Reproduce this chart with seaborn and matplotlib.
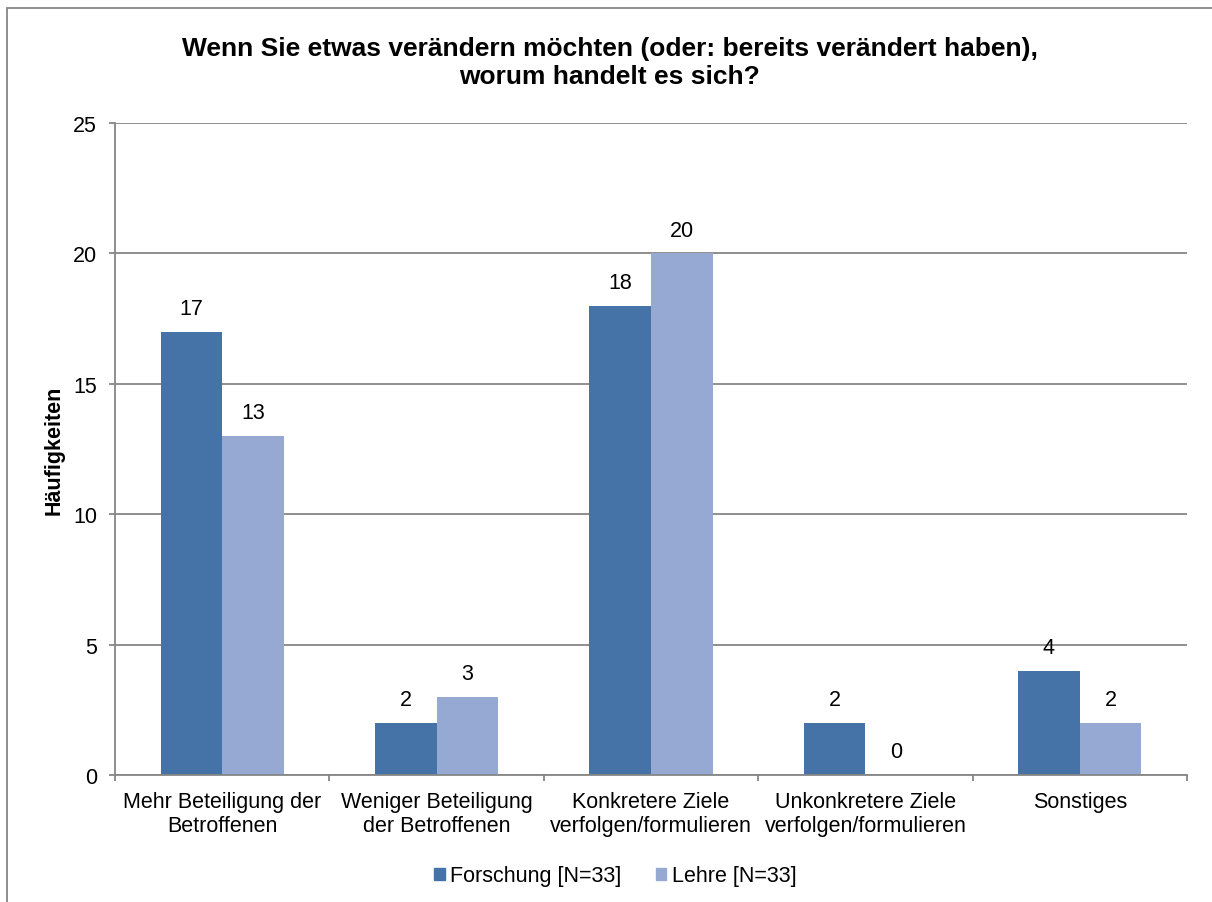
import matplotlib
matplotlib.use("Agg")
import matplotlib.pyplot as plt
import seaborn as sns
import pandas as pd
from matplotlib.patches import Rectangle

categories = ["Mehr Beteiligung der\nBetroffenen", "Weniger Beteiligung\nder Betroffenen",
              "Konkretere Ziele\nverfolgen/formulieren", "Unkonkretere Ziele\nverfolgen/formulieren",
              "Sonstiges"]
forschung = [17, 2, 18, 2, 4]
lehre = [13, 3, 20, 0, 2]
series_names = ["Forschung [N=33]", "Lehre [N=33]"]
colors = ["#4572A7", "#95A9D2"]

df = pd.DataFrame({
    "cat": categories * 2,
    "val": forschung + lehre,
    "series": [series_names[0]] * 5 + [series_names[1]] * 5,
})

sns.set_style("white")
plt.rcParams['font.family'] = ['Liberation Sans', 'DejaVu Sans']
plt.rcParams['text.color'] = 'black'
plt.rcParams['axes.labelcolor'] = 'black'
plt.rcParams['xtick.color'] = 'black'
plt.rcParams['ytick.color'] = 'black'

FS = 15.5

fig = plt.figure(figsize=(12.12, 9.03), dpi=100)
ax = fig.add_axes([115/1212, 1 - 776/903, (1187-115)/1212, (776-124)/903])

sns.barplot(data=df, x="cat", y="val", hue="series", palette=colors, width=0.575,
            gap=0, ax=ax, saturation=1, edgecolor="none", linewidth=0, legend=True)

ax.set_ylim(0, 25)
ax.set_xlim(-0.5, 4.5)
ax.set_yticks([0, 5, 10, 15, 20, 25])
ax.yaxis.grid(True, color="#868686", linewidth=1.3)
ax.set_axisbelow(True)
for s in ["top", "right"]:
    ax.spines[s].set_visible(False)
for s in ["left", "bottom"]:
    ax.spines[s].set_color("#868686")
    ax.spines[s].set_linewidth(1.3)

ax.set_xticks([i - 0.5 for i in range(6)], minor=False)
ax.set_xticklabels([])
ax.set_xticks(range(5), minor=True)
ax.set_xticklabels(categories, minor=True, fontsize=FS)
ax.tick_params(axis="x", which="major", length=4.5, color="#868686", width=1.3, direction="out", bottom=True)
ax.tick_params(axis="x", which="minor", length=0, pad=11.5)
ax.tick_params(axis="y", length=4.5, color="#868686", width=1.3, direction="out", left=True,
               labelsize=FS, pad=8.5, labelcolor="black")

ax.set_xlabel("")
ax.set_ylabel("Häufigkeiten", fontsize=FS, fontweight="bold", labelpad=6)

for cont in ax.containers:
    ax.bar_label(cont, fmt="%d", padding=9, fontsize=FS, color="black")

ax.legend_.remove()
handles = [plt.Rectangle((0, 0), 1, 1, color=c) for c in colors]
fig.legend(handles, series_names, loc="center", bbox_to_anchor=(0.5075, 1 - 877/903), ncol=2,
           frameon=False, fontsize=FS, handlelength=0.5, handleheight=0.5, handletextpad=0.25,
           columnspacing=1.6)

fig.text(0.503, 1 - 63/903, "Wenn Sie etwas verändern möchten (oder: bereits verändert haben),\nworum handelt es sich?",
         ha="center", va="center", fontsize=19, fontweight="bold", linespacing=1.2, color="black")

fig.patches.append(Rectangle((7/1212, -0.1), 1.2, 1 - 9/903 + 0.1, transform=fig.transFigure,
                             fill=False, edgecolor="#868686", linewidth=1.3))

fig.savefig("out.png", dpi=100)
